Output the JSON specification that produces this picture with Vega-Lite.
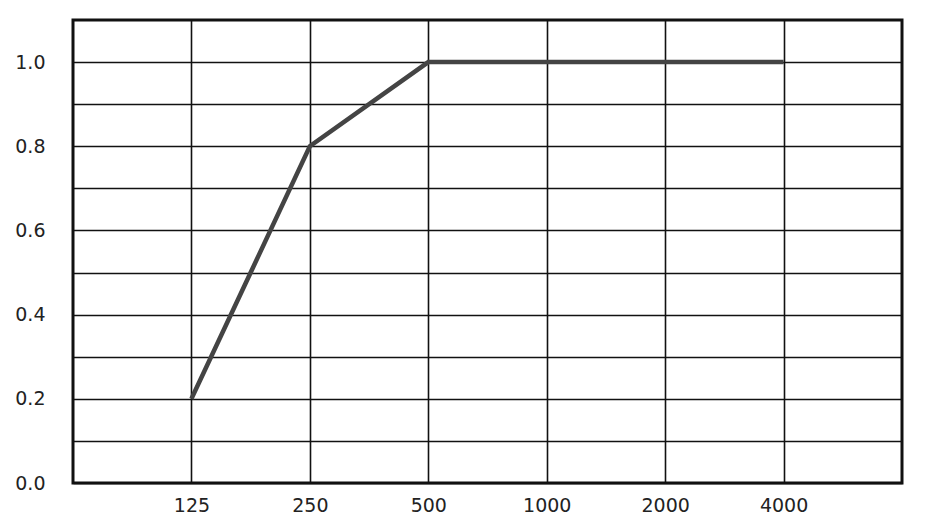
{
  "$schema": "https://vega.github.io/schema/vega-lite/v6.json",
  "width": 829,
  "height": 463,
  "autosize": "none",
  "padding": {"left": 73, "top": 20, "right": 38, "bottom": 44},
  "background": "white",
  "config": {
    "view": {"stroke": "#111", "strokeWidth": 3},
    "axis": {"labelFont": "DejaVu Sans", "labelFontSize": 19, "labelColor": "#222", "gridColor": "#111", "gridOpacity": 1, "gridWidth": 1.6, "ticks": false, "domain": false}
  },
  "data": {
    "values": [
      {"freq": "125", "value": 0.2},
      {"freq": "250", "value": 0.8},
      {"freq": "500", "value": 1.0},
      {"freq": "1000", "value": 1.0},
      {"freq": "2000", "value": 1.0},
      {"freq": "4000", "value": 1.0}
    ]
  },
  "mark": {"type": "line", "color": "#444", "strokeWidth": 4.5, "strokeCap": "butt", "strokeJoin": "miter"},
  "encoding": {
    "x": {
      "field": "freq", "type": "ordinal", "sort": null,
      "scale": {"type": "point", "padding": 1},
      "axis": {"title": null, "labelAngle": 0, "labelPadding": 13, "grid": true}
    },
    "y": {
      "field": "value", "type": "quantitative",
      "scale": {"domain": [0, 1.1], "nice": false},
      "axis": {"title": null, "values": [0, 0.1, 0.2, 0.3, 0.4, 0.5, 0.6, 0.7, 0.8, 0.9, 1.0], "format": ".1f", "labelExpr": "round(datum.value*10) % 2 == 0 ? datum.label : ''", "labelPadding": 28, "grid": true}
    }
  }
}
